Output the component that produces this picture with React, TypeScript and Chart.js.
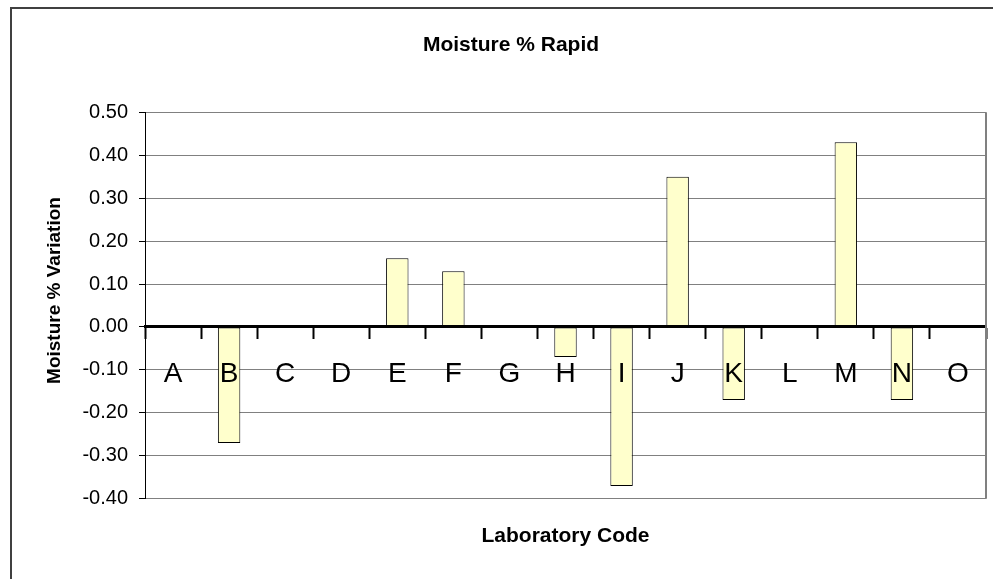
import React, { useEffect, useRef } from "react";
import { Chart, registerables } from "chart.js";

Chart.register(...registerables);

const categories = ["A", "B", "C", "D", "E", "F", "G", "H", "I", "J", "K", "L", "M", "N", "O"];
const variation = [0, -0.27, 0, 0, 0.16, 0.13, 0, -0.07, -0.37, 0.35, -0.17, 0, 0.43, -0.17, 0];
const yMin = -0.4;
const yMax = 0.5;
const yStep = 0.1;

const chartTitle = "Moisture % Rapid";
const xTitle = "Laboratory Code";
const yTitle = "Moisture % Variation";

const FONT = "'Liberation Sans', Arial, sans-serif";

const plotBorder = {
  id: "plotBorder",
  afterDraw(chart: any) {
    const { ctx, chartArea } = chart;
    ctx.save();
    ctx.strokeStyle = "#808080";
    ctx.lineWidth = 2;
    ctx.beginPath();
    ctx.moveTo(chartArea.right, chartArea.top);
    ctx.lineTo(chartArea.right, chartArea.bottom);
    ctx.stroke();
    ctx.restore();
  },
};

const yTitlePlugin = {
  id: "yTitlePlugin",
  afterDraw(chart: any) {
    const { ctx, chartArea } = chart;
    ctx.save();
    ctx.fillStyle = "#000";
    ctx.font = `bold 19px ${FONT}`;
    ctx.textAlign = "center";
    ctx.textBaseline = "middle";
    ctx.translate(42.5, (chartArea.top + chartArea.bottom) / 2 - 15);
    ctx.rotate(-Math.PI / 2);
    ctx.fillText(yTitle, 0, 0);
    ctx.restore();
  },
};

export default function App() {
  const ref = useRef<HTMLCanvasElement | null>(null);

  useEffect(() => {
    if (!ref.current) return;
    Chart.defaults.color = "#000";
    const chart = new Chart(ref.current, {
      type: "bar",
      data: {
        labels: categories,
        datasets: [
          {
            data: variation,
            backgroundColor: "#FFFFCC",
            borderColor: "#000",
            borderWidth: 1,
            borderSkipped: false,
            barPercentage: 0.4,
            categoryPercentage: 1,
          },
        ],
      },
      options: {
        animation: false,
        responsive: false,
        maintainAspectRatio: false,
        layout: { padding: 0 },
        plugins: {
          legend: { display: false },
          tooltip: { enabled: false },
          title: {
            display: true,
            text: chartTitle,
            color: "#000",
            font: { family: FONT, size: 21, weight: "bold" },
            padding: { top: 24, bottom: 54 },
          },
          subtitle: {
            display: true,
            position: "bottom",
            fullSize: false,
            text: xTitle,
            color: "#000",
            font: { family: FONT, size: 21, weight: "bold" },
            padding: { top: 25, bottom: 30 },
          },
        },
        scales: {
          x: {
            position: { y: 0 },
            offset: true,
            afterFit: (s: any) => {
              s.height = 0;
            },
            grid: {
              display: true,
              drawOnChartArea: false,
              drawTicks: true,
              offset: true,
              tickLength: 11,
              tickWidth: 2,
              tickColor: "#000",
              color: "#000",
              z: 1,
            },
            border: { display: true, color: "#000", width: 3, z: 1 },
            ticks: {
              color: "#000",
              font: { family: FONT, size: 28 },
              padding: 20,
              maxRotation: 0,
              autoSkip: false,
              z: 1,
            },
          },
          y: {
            min: yMin,
            max: yMax,
            afterFit: (s: any) => {
              s.width = 133;
            },
            grid: {
              color: "#808080",
              lineWidth: 1,
              tickColor: "#000",
              tickLength: 6,
              drawTicks: true,
            },
            border: { display: true, color: "#000", width: 1 },
            ticks: {
              stepSize: yStep,
              color: "#000",
              font: { family: FONT, size: 20 },
              padding: 11,
              callback: (v: any) => Number(v).toFixed(2),
            },
            title: { display: false },
          },
          yRightSpace: {
            type: "linear",
            position: "right",
            display: true,
            min: yMin,
            max: yMax,
            afterFit: (s: any) => {
              s.width = 24;
            },
            grid: { display: false, drawOnChartArea: false, drawTicks: false },
            border: { display: false },
            ticks: { display: false },
            title: { display: false },
          },
        },
      },
      plugins: [plotBorder, yTitlePlugin],
    });
    return () => chart.destroy();
  }, []);

  return (
    <div
      style={{
        position: "absolute",
        left: 10,
        top: 7,
        width: 983,
        height: 572,
        boxSizing: "border-box",
        borderLeft: "2px solid #404040",
        borderTop: "2px solid #404040",
        overflow: "hidden",
        background: "#fff",
      }}
    >
      <canvas ref={ref} width={998} height={570} style={{ display: "block" }} />
    </div>
  );
}
